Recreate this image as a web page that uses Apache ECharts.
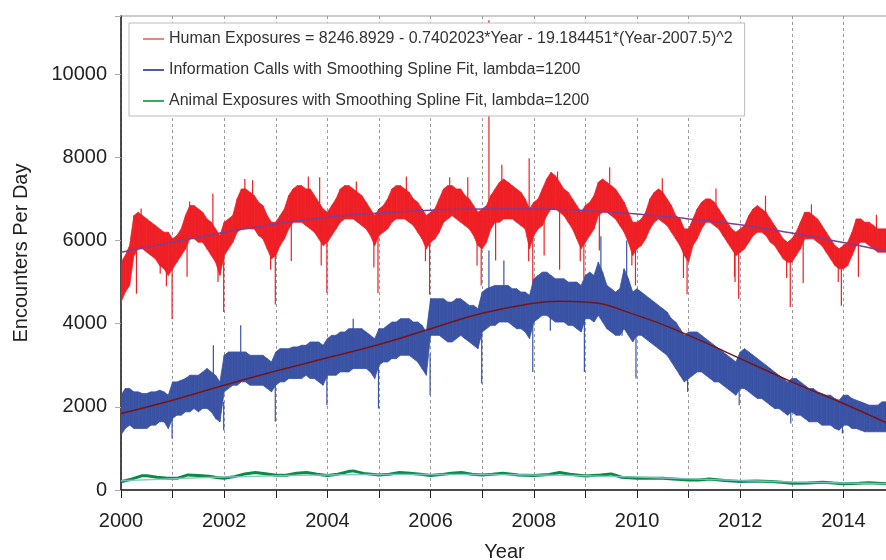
<!DOCTYPE html>
<html>
<head>
<meta charset="utf-8">
<script src="https://cdn.jsdelivr.net/npm/echarts@6/dist/echarts.min.js"></script>
<style>
  html, body { margin: 0; padding: 0; background: #fff; }
  #chart { width: 886px; height: 560px; }
</style>
</head>
<body>
<div id="chart"></div>
<script>
// monthly envelope (low / high), Jan 2000 .. Dec 2014
const humanHi = [
  5480,5640,5880,6600,6680,6600,6520,6440,6360,6280,6200,6200,
  6040,6120,6280,6600,6840,6840,6760,6680,6520,6440,6280,6120,
  6440,6520,6600,7000,7240,7240,7160,7080,6920,6840,6600,6440,
  6440,6600,6760,7080,7240,7320,7320,7240,7240,7080,6920,6760,
  6680,6840,7000,7240,7320,7320,7240,7160,7080,6920,6760,6600,
  6760,6840,7000,7240,7320,7320,7240,7160,7000,6920,6760,6600,
  6680,6760,7000,7240,7320,7320,7240,7240,7080,7000,6840,6680,
  6760,6840,7080,7240,7400,7480,7400,7320,7240,7160,7000,6760,
  6920,7000,7240,7480,7640,7560,7400,7240,7160,7000,6840,6680,
  6840,6920,7080,7400,7480,7400,7320,7240,7080,6920,6680,6440,
  6440,6520,6680,7000,7160,7240,7160,7000,6840,6600,6520,6280,
  6280,6520,6760,6920,7000,7000,6920,6760,6600,6440,6280,6200,
  6280,6360,6600,6760,6840,6760,6680,6520,6360,6200,6040,5960,
  6040,6200,6440,6680,6680,6600,6520,6360,6200,6040,5880,5800,
  5880,5960,6200,6520,6520,6440,6440,6360,6280,6280,6280,6280
];
const humanLo = [
  4520,4760,4920,5640,5800,5800,5720,5640,5560,5400,5320,5160,
  5320,5480,5640,5800,6040,6040,5960,5960,5800,5640,5480,5160,
  5640,5800,5960,6200,6280,6280,6280,6280,6120,6040,5800,5560,
  5640,5880,6040,6280,6440,6440,6440,6360,6280,6200,6040,5880,
  5960,6120,6280,6440,6520,6520,6520,6440,6360,6280,6120,5880,
  6120,6200,6280,6440,6520,6520,6520,6440,6360,6200,6040,5800,
  5960,6040,6200,6440,6520,6600,6520,6440,6360,6280,6120,5880,
  5800,5960,6280,6440,6440,6520,6520,6520,6440,6360,6280,5800,
  6120,6280,6360,6600,6760,6760,6680,6600,6440,6280,6040,5800,
  5960,6120,6280,6600,6680,6680,6600,6520,6360,6200,5960,5640,
  5800,5880,6040,6280,6440,6520,6440,6360,6200,6040,5880,5640,
  5480,5880,6040,6280,6440,6440,6360,6280,6120,5960,5800,5640,
  5720,5800,5960,6120,6200,6200,6120,5960,5880,5720,5560,5480,
  5480,5640,5800,6040,6040,6040,5960,5880,5720,5560,5400,5320,
  5320,5400,5640,5880,5960,5960,5880,5800,5720,5720,5720,5720
];
const infoHi = [
  2280,2440,2440,2360,2360,2320,2320,2360,2360,2400,2360,2280,
  2600,2600,2640,2680,2760,2760,2760,2840,2920,2840,2760,2600,
  3240,3320,3320,3320,3320,3320,3240,3240,3240,3240,3160,3080,
  3320,3400,3400,3400,3440,3440,3480,3480,3560,3560,3560,3480,
  3640,3720,3720,3800,3800,3880,3880,3880,3880,3800,3720,3640,
  3880,3880,3960,4040,4040,4120,4120,4120,4040,4040,3960,3800,
  4600,4600,4600,4600,4520,4520,4600,4600,4520,4440,4440,4360,
  4760,4840,4880,4920,4920,4920,4920,4840,4840,4760,4760,4680,
  5080,5160,5240,5240,5160,5080,5080,5080,5000,5000,5000,4920,
  5160,5240,5160,5480,5240,4920,4840,4760,4840,5320,5080,4760,
  4840,4760,4680,4600,4520,4440,4360,4280,4120,4040,3880,3720,
  3800,3800,3800,3720,3640,3560,3480,3400,3320,3240,3160,3080,
  3320,3400,3320,3240,3160,3080,3000,2920,2840,2760,2680,2600,
  2680,2680,2600,2520,2440,2440,2360,2320,2280,2280,2200,2160,
  2280,2280,2200,2160,2120,2080,2040,2040,2040,2120,2120,2120
];
const infoLo = [
  1320,1480,1560,1480,1480,1480,1480,1560,1560,1640,1640,1480,
  1720,1800,1800,1880,1880,1960,1880,1960,1960,1880,1720,1640,
  2360,2440,2520,2520,2600,2600,2520,2520,2520,2520,2440,2360,
  2520,2600,2600,2680,2680,2680,2680,2760,2680,2680,2600,2520,
  2760,2760,2760,2840,2840,2840,2920,2920,2920,2920,2840,2680,
  3000,3080,3080,3160,3160,3240,3240,3240,3160,3080,2920,2760,
  3720,3720,3720,3640,3560,3560,3640,3720,3640,3560,3480,3400,
  3800,3880,3960,3960,4040,4040,4040,3960,3880,3880,3800,3640,
  4040,4120,4200,4200,4120,4040,4040,4040,3960,3960,3880,3800,
  4120,4120,4040,4200,4040,3880,3800,3720,3720,3880,3720,3560,
  3720,3720,3640,3560,3480,3400,3320,3240,3080,2920,2760,2600,
  2680,2760,2840,2840,2760,2680,2600,2600,2520,2440,2360,2280,
  2440,2440,2360,2280,2200,2200,2120,2040,1960,1960,1880,1800,
  1880,1800,1800,1720,1640,1640,1640,1560,1560,1560,1480,1440,
  1560,1560,1480,1480,1440,1400,1400,1400,1400,1400,1400,1400
];

// single-day extremes: [year, value]; each spike is drawn from the band's middle
const humanSpikes = [
  [2000.0,4300],[2000.88,4900],[2000.99,4110],[2001.88,5000],[2001.99,4280],
  [2002.9,5300],[2002.99,4460],[2003.88,5400],[2003.99,4740],[2004.9,5350],
  [2004.98,4740],[2005.9,5500],[2005.98,4700],[2006.9,5400],[2006.98,4920],
  [2007.9,5500],[2007.98,4760],[2008.5,5300],[2008.9,5500],[2008.97,5080],
  [2009.9,5400],[2009.97,4920],[2010.9,5100],[2010.97,4710],[2011.9,5000],
  [2011.97,4600],[2012.9,5100],[2012.97,4400],[2013.9,5000],[2013.96,4430],
  [2000.3,4720],[2000.76,5200],[2001.28,5130],[2003.3,5510],[2007.26,5520],
  [2008.2,5640],[2009.27,5760],[2011.89,5130],[2013.22,4980],[2014.29,5130],
  [2007.13,11300],[2007.38,7820],[2007.91,7980],[2002.4,7480],
  [2000.39,6770],[2001.33,6940],[2001.78,7130],[2002.55,7450],[2003.63,7540],
  [2003.85,7520],[2004.56,7420],[2005.53,7540],[2006.37,7520],[2006.72,7520],
  [2008.46,7660],[2009.47,7760],[2010.49,7500],[2011.53,7250],[2012.49,7080],
  [2013.38,6870],[2014.64,6620]
];
const infoSpikes = [
  [2000.99,1240],[2001.99,1440],[2002.99,1640],[2003.99,2040],[2004.99,1960],
  [2005.99,2280],[2006.99,2560],[2007.98,2840],[2008.98,2840],[2009.98,2680],
  [2010.98,2360],[2011.98,2040],[2012.98,1600],[2013.98,1360],
  [2008.32,3830],[2009.71,3710],
  [2001.79,3480],[2002.32,3960],[2004.5,4120],[2007.13,5760],[2007.42,5520],
  [2009.3,6100],[2009.8,6000]
];

const animal = [
  [2000.0,200],[2000.2,260],[2000.4,340],[2000.5,345],[2000.7,306],[2000.9,282],[2001.1,285],[2001.3,363],
  [2001.5,350],[2001.7,330],[2001.85,300],[2002.0,282],[2002.2,322],[2002.4,387],[2002.6,420],[2002.8,390],
  [2003.0,355],[2003.2,355],[2003.4,403],[2003.6,420],[2003.8,379],[2004.0,347],[2004.2,380],[2004.4,443],
  [2004.5,460],[2004.7,400],[2005.0,363],[2005.2,380],[2005.4,420],[2005.6,400],[2005.8,380],[2006.0,347],
  [2006.2,370],[2006.4,403],[2006.6,420],[2006.8,380],[2007.0,363],[2007.2,380],[2007.4,403],[2007.7,363],
  [2008.0,347],[2008.3,372],[2008.5,420],[2008.7,380],[2009.0,339],[2009.3,363],[2009.5,387],[2009.7,306],
  [2010.0,282],[2010.3,282],[2010.5,282],[2010.7,266],[2011.0,242],[2011.2,242],[2011.4,266],[2011.7,226],
  [2012.0,202],[2012.3,218],[2012.6,202],[2012.8,186],[2013.0,161],[2013.3,169],[2013.6,186],[2013.8,169],
  [2014.0,153],[2014.3,161],[2014.5,177],[2014.86,145]
];

// fitted curves
const humanFit = [
  [2000,5720],[2001,5960],[2002,6200],[2003,6400],[2004,6560],[2005,6660],[2006,6730],[2007,6760],
  [2008,6760],[2009,6720],[2010,6640],[2011,6520],[2012,6380],[2013,6180],[2014,5950],[2014.86,5730]
];
const infoFit = [
  [2000,1840],[2001,2160],[2002,2520],[2003,2860],[2004,3180],[2005,3500],[2006,3880],[2007,4250],
  [2008,4490],[2008.5,4540],[2009,4520],[2010,4200],[2011,3720],[2012,3160],[2013,2600],[2014,2080],[2014.86,1600]
];
const animalFit = [
  [2000,220],[2001,270],[2002,310],[2003,340],[2004,360],[2005,370],[2006,370],[2007,370],
  [2008,360],[2009,340],[2010,310],[2011,270],[2012,230],[2013,195],[2014,170],[2014.86,150]
];

const nameHuman = "Human Exposures = 8246.8929 - 0.7402023*Year - 19.184451*(Year-2007.5)^2";
const nameInfo = "Information Calls with Smoothing Spline Fit, lambda=1200";
const nameAnimal = "Animal Exposures with Smoothing Spline Fit, lambda=1200";

const FONT = "Liberation Sans";

function bandData(lo, hi) {
  const out = [];
  for (let i = 0; i < lo.length - 1; i++) {
    out.push([2000 + i / 12, lo[i], hi[i], 2000 + (i + 1) / 12, lo[i + 1], hi[i + 1]]);
  }
  return out;
}

function bandSeries(name, lo, hi, color) {
  return {
    name: name,
    type: "custom",
    clip: true,
    itemStyle: { color: color },
    encode: { x: [0, 3], y: [1, 2, 4, 5] },
    data: bandData(lo, hi),
    renderItem: function(params, api) {
      const a = api.coord([api.value(0), api.value(2)]);
      const b = api.coord([api.value(3), api.value(5)]);
      const c = api.coord([api.value(3), api.value(4)]);
      const d = api.coord([api.value(0), api.value(1)]);
      return {
        type: "polygon",
        shape: { points: [a, b, c, d] },
        style: { fill: color, stroke: color, lineWidth: 0.8 }
      };
    }
  };
}

// spikes start from the middle of the month's band they sit in
function spikeSeries(name, data, lo, hi, color) {
  return {
    name: name,
    type: "custom",
    clip: true,
    encode: { x: 0, y: 1 },
    data: data,
    renderItem: function(params, api) {
      const x = api.value(0);
      const i = Math.min(lo.length - 1, Math.max(0, Math.floor((x - 2000) * 12)));
      const p = api.coord([x, (lo[i] + hi[i]) / 2]);
      const q = api.coord([x, api.value(1)]);
      return {
        type: "line",
        shape: { x1: p[0], y1: p[1], x2: q[0], y2: q[1] },
        style: { stroke: color, lineWidth: 1.2 }
      };
    }
  };
}

const chart = echarts.init(document.getElementById("chart"));
chart.setOption({
  animation: false,
  textStyle: { fontFamily: FONT },
  grid: {
    left: 121,
    right: -2,
    top: 16,
    bottom: 70,
    outerBoundsMode: "none",
    show: true,
    borderColor: "#999",
    borderWidth: 1
  },
  legend: {
    orient: "vertical",
    left: 129,
    top: 23,
    padding: [8, 12, 7, 14],
    itemGap: 15,
    itemWidth: 21,
    itemHeight: 2,
    icon: "rect",
    backgroundColor: "#fff",
    borderColor: "#bbb",
    borderWidth: 1,
    selectedMode: false,
    textStyle: { fontFamily: FONT, fontSize: 16, color: "#333" },
    data: [
      { name: nameHuman, itemStyle: { color: "#f08080" } },
      { name: nameInfo, itemStyle: { color: "#4a5ea8" } },
      { name: nameAnimal, itemStyle: { color: "#3aa866" } }
    ]
  },
  xAxis: {
    type: "value",
    min: 2000,
    max: 2014.864,
    interval: 1,
    name: "Year",
    nameLocation: "middle",
    nameGap: 52,
    nameTextStyle: { fontFamily: FONT, fontSize: 20, color: "#222" },
    axisLine: { lineStyle: { color: "#222", width: 1.5 } },
    axisTick: { length: 8, lineStyle: { color: "#222" } },
    axisLabel: {
      fontFamily: FONT,
      fontSize: 20,
      color: "#222",
      margin: 21,
      formatter: function(v) {
        return Number.isInteger(v) && v % 2 === 0 ? String(v) : "";
      }
    },
    splitLine: { show: true, lineStyle: { color: "#999", type: [3, 3], width: 1 } }
  },
  yAxis: {
    type: "value",
    min: 0,
    max: 11400,
    interval: 2000,
    name: "Encounters Per Day",
    nameLocation: "middle",
    nameGap: 90,
    nameTextStyle: { fontFamily: FONT, fontSize: 20, color: "#222" },
    axisLine: { show: true, lineStyle: { color: "#222", width: 1.5 } },
    axisTick: { show: true, length: 6, lineStyle: { color: "#aaa" } },
    axisLabel: {
      fontFamily: FONT,
      fontSize: 20,
      color: "#222",
      margin: 14,
      formatter: function(v) {
        return v % 2000 === 0 ? String(v) : "";
      }
    },
    splitLine: { show: false }
  },
  series: [
    bandSeries(nameHuman, humanLo, humanHi, "#ee1f25"),
    spikeSeries("human spikes", humanSpikes, humanLo, humanHi, "#ee1f25"),
    bandSeries(nameInfo, infoLo, infoHi, "#3a53a4"),
    spikeSeries("info spikes", infoSpikes, infoLo, infoHi, "#3a53a4"),
    {
      name: nameAnimal,
      type: "line",
      data: animal,
      showSymbol: false,
      lineStyle: { color: "#0b8a45", width: 3 },
      itemStyle: { color: "#0b8a45" }
    },
    {
      name: "animal fit",
      type: "line",
      data: animalFit,
      smooth: true,
      showSymbol: false,
      lineStyle: { color: "#7cc4c8", width: 1.5, opacity: 0.9 }
    },
    {
      name: "human fit",
      type: "line",
      data: humanFit,
      smooth: true,
      showSymbol: false,
      lineStyle: { color: "#7b3f95", width: 1.5 }
    },
    {
      name: "info fit",
      type: "line",
      data: infoFit,
      smooth: true,
      showSymbol: false,
      lineStyle: { color: "#7a1414", width: 1.5 }
    }
  ]
});
</script>
</body>
</html>
